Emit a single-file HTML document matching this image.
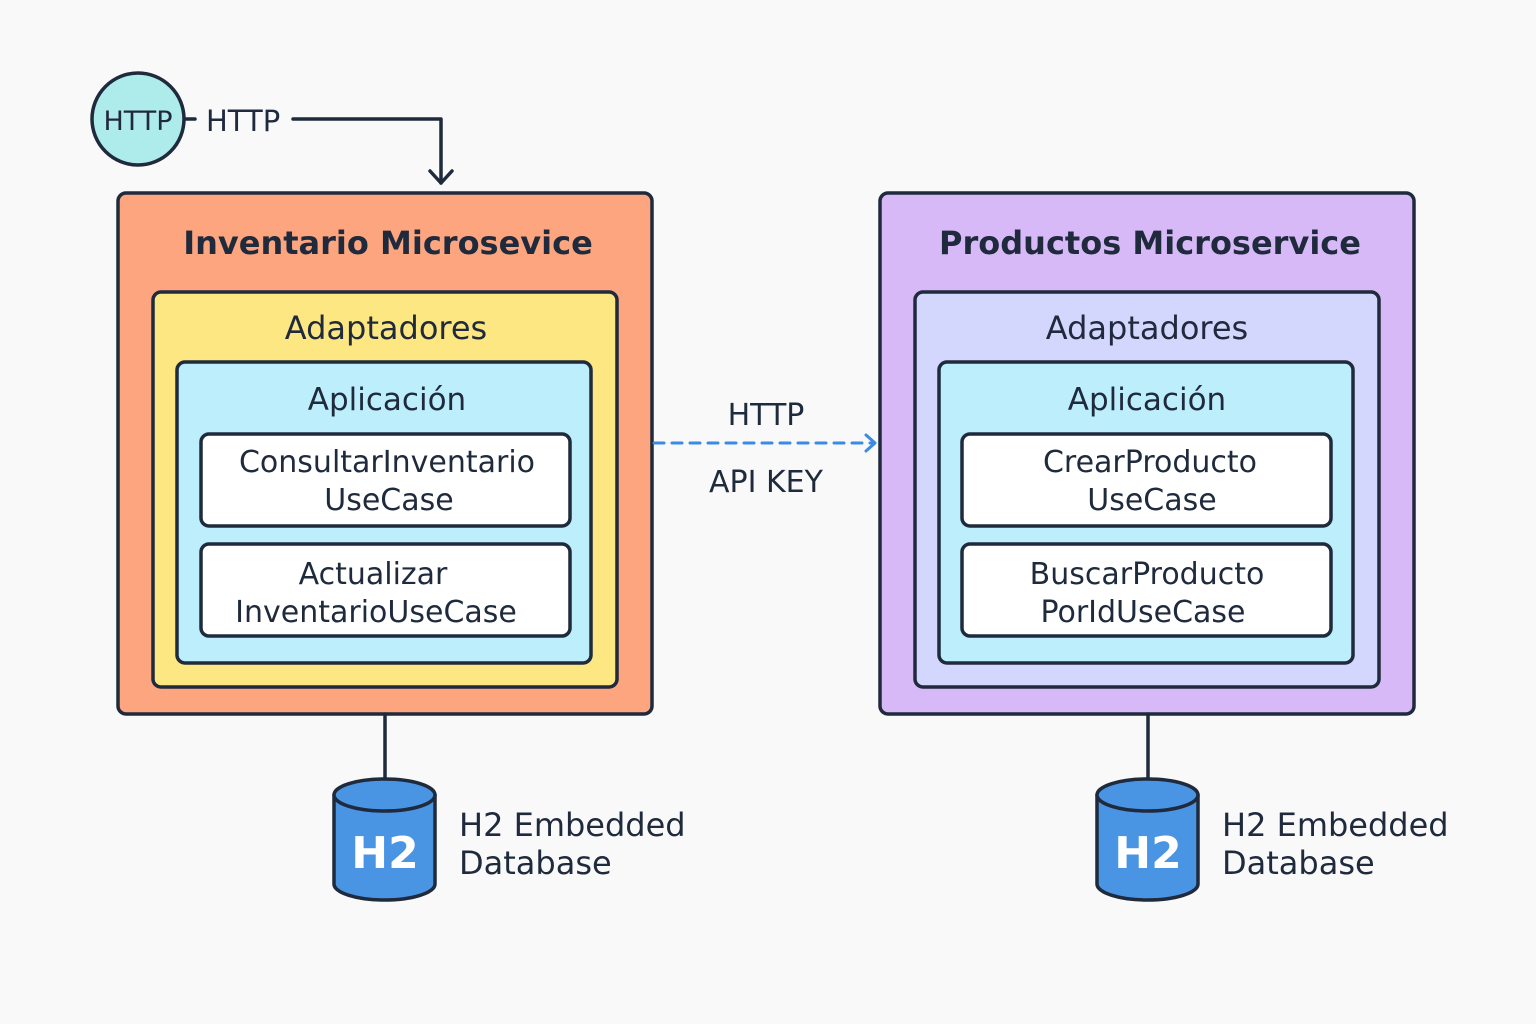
<!DOCTYPE html>
<html><head><meta charset="utf-8"><style>
html,body{margin:0;padding:0;background:#f9f9f9;}
svg{display:block;}
text{font-family:"DejaVu Sans","Liberation Sans",sans-serif;fill:#1f2a3c;}
</style></head><body>
<svg width="1536" height="1024" viewBox="0 0 1536 1024" xmlns="http://www.w3.org/2000/svg">
<rect width="1536" height="1024" fill="#f9f9f9"/>
<g stroke="#1f2a3c" stroke-width="3.5" fill="none" stroke-linecap="round" stroke-linejoin="round">
<circle cx="138" cy="119" r="46" fill="#aeeceb"/>
<line x1="185" y1="119" x2="195" y2="119"/>
<polyline points="293,119 441,119 441,183"/>
<polyline points="430,171 441,183 452,171"/>
<rect x="118" y="193" width="534" height="521" rx="8" fill="#fda57e"/>
<rect x="153" y="292" width="464" height="395" rx="8" fill="#fde782"/>
<rect x="177" y="362" width="414" height="301" rx="8" fill="#bdeefc"/>
<rect x="201" y="434" width="369" height="92" rx="8" fill="#fff"/>
<rect x="201" y="544" width="369" height="92" rx="8" fill="#fff"/>
<rect x="880" y="193" width="534" height="521" rx="8" fill="#d8b9f8"/>
<rect x="915" y="292" width="464" height="395" rx="8" fill="#d3d6fd"/>
<rect x="939" y="362" width="414" height="301" rx="8" fill="#bdeefc"/>
<rect x="962" y="434" width="369" height="92" rx="8" fill="#fff"/>
<rect x="962" y="544" width="369" height="92" rx="8" fill="#fff"/>
<line x1="385" y1="714" x2="385" y2="779"/>
<line x1="1148" y1="714" x2="1148" y2="779"/>
<path d="M334,795 L334,884 A50.5,16 0 0 0 435,884 L435,795" fill="#4a94e4"/>
<ellipse cx="384.5" cy="795" rx="50.5" ry="16" fill="#4a94e4"/>
<path d="M1097,795 L1097,884 A50.5,16 0 0 0 1198,884 L1198,795" fill="#4a94e4"/>
<ellipse cx="1147.5" cy="795" rx="50.5" ry="16" fill="#4a94e4"/>
</g>
<line x1="654" y1="443" x2="872" y2="443" stroke="#3b8ae6" stroke-width="3" stroke-dasharray="10,8" stroke-linecap="round"/>
<polyline points="866,435 875,443 866,451" stroke="#3b8ae6" stroke-width="3" fill="none" stroke-linecap="round" stroke-linejoin="round"/>
<text x="138" y="130" font-size="27" text-anchor="middle">HTTP</text>
<text x="206" y="131" font-size="29">HTTP</text>
<text x="766" y="425" font-size="30" text-anchor="middle">HTTP</text>
<text x="766" y="492" font-size="30" text-anchor="middle">API KEY</text>
<g text-anchor="middle">
<text x="388" y="254" font-size="32" font-weight="bold">Inventario Microsevice</text>
<text x="386" y="339" font-size="32">Adaptadores</text>
<text x="387" y="410" font-size="31">Aplicación</text>
<text x="387" y="472" font-size="30">ConsultarInventario</text>
<text x="389" y="510" font-size="30">UseCase</text>
<text x="373" y="584" font-size="30">Actualizar</text>
<text x="376" y="622" font-size="30">InventarioUseCase</text>
<text x="1150" y="254" font-size="32" font-weight="bold">Productos Microservice</text>
<text x="1147" y="339" font-size="32">Adaptadores</text>
<text x="1147" y="410" font-size="31">Aplicación</text>
<text x="1150" y="472" font-size="30">CrearProducto</text>
<text x="1152" y="510" font-size="30">UseCase</text>
<text x="1147" y="584" font-size="30">BuscarProducto</text>
<text x="1143" y="622" font-size="30">PorIdUseCase</text>
<text x="385" y="868" font-size="44" font-weight="bold" style="fill:#fff">H2</text>
<text x="1148" y="868" font-size="44" font-weight="bold" style="fill:#fff">H2</text>
</g>
<text x="459" y="836" font-size="32">H2 Embedded</text>
<text x="459" y="874" font-size="32">Database</text>
<text x="1222" y="836" font-size="32">H2 Embedded</text>
<text x="1222" y="874" font-size="32">Database</text>
</svg>
</body></html>
